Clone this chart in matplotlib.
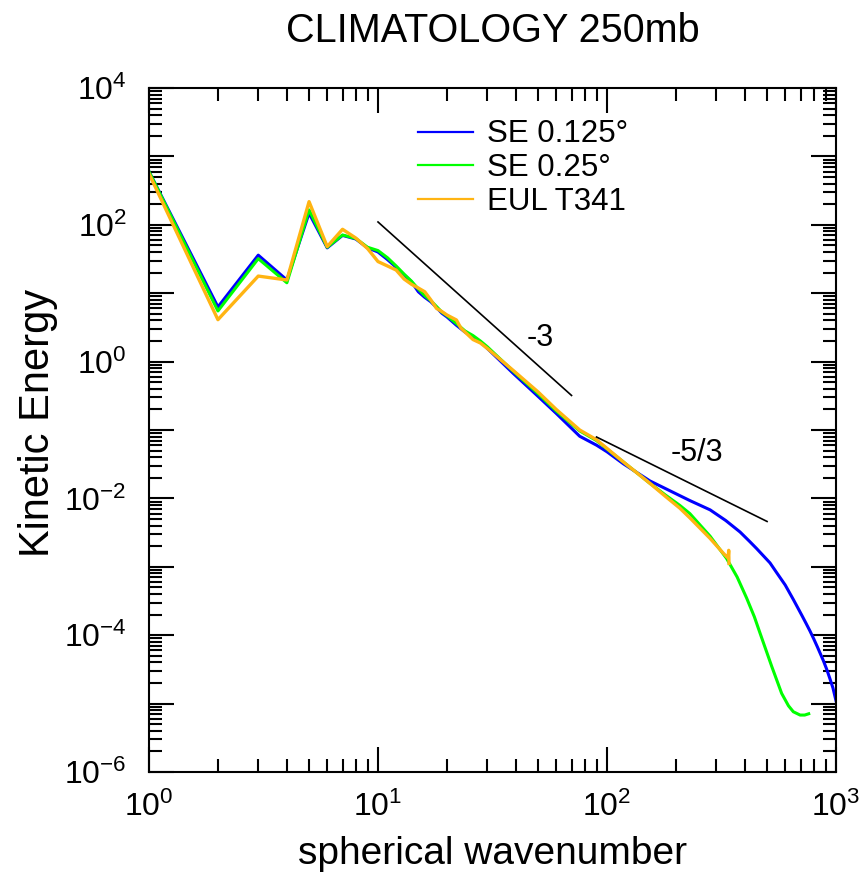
import numpy as np
import matplotlib
matplotlib.use("Agg")
import matplotlib.pyplot as plt
from matplotlib.ticker import LogLocator, FuncFormatter, NullFormatter
from matplotlib.lines import Line2D

plt.rcParams['font.family'] = ['Liberation Sans', 'DejaVu Sans']
plt.rcParams['mathtext.default'] = 'regular'

# kinetic energy spectra, 250mb climatology
k_se125 = [1, 2, 3, 4, 5, 6, 7, 8, 9, 10, 11, 12, 13, 14, 15, 16, 17, 18, 19, 20,
           22, 24, 26, 28, 30, 39, 50, 60, 76, 90, 100, 118, 154, 200, 230, 282,
           330, 381, 420, 450, 515, 550, 600, 651, 680, 710, 740, 770, 800, 830,
           860, 880, 910, 940, 970, 1000]
E_se125 = [600, 6.3, 36, 15.6, 148, 46, 70, 62, 46, 40, 31, 24, 18.5, 14.7, 10.5,
           8.7, 7.5, 6.2, 5.1, 4.5, 3.4, 2.7, 2.3, 1.95, 1.56, 0.67, 0.31, 0.175,
           0.081, 0.060, 0.048, 0.032, 0.018, 0.0117, 0.0093, 0.0068, 4.75e-3,
           3.23e-3, 2.34e-3, 1.85e-3, 1.14e-3, 8.26e-4, 5.42e-4, 3.33e-4, 2.54e-4,
           1.94e-4, 1.49e-4, 1.15e-4, 8.8e-5, 6.7e-5, 5.1e-5, 4.27e-5, 3.2e-5,
           2.33e-5, 1.69e-5, 1.1e-5]

k_se25 = [1, 2, 3, 4, 5, 6, 7, 8, 9, 10, 11, 12, 13, 14, 15, 16, 17, 18, 19, 20,
          22, 24, 26, 28, 30, 39, 50, 60, 76, 90, 118, 154, 180, 208, 230, 282,
          333, 370, 407, 440, 466, 524, 579, 620, 651, 697, 730, 760]
E_se25 = [600, 5.5, 32, 14.2, 165, 47, 71, 63, 47, 42, 33, 25, 19, 15, 11.5, 9.2,
          7.8, 6.4, 5.3, 4.7, 3.6, 2.8, 2.4, 2.0, 1.65, 0.72, 0.34, 0.19, 0.097,
          0.070, 0.034, 0.0166, 0.0112, 0.0079, 0.0060, 0.0028, 1.32e-3, 7.1e-4,
          3.5e-4, 1.86e-4, 1.07e-4, 3.5e-5, 1.41e-5, 9.3e-6, 7.6e-6, 6.8e-6,
          6.8e-6, 7.1e-6]

k_eul = [1, 2, 3, 4, 5, 6, 7, 8, 9, 10, 11, 12, 13, 14, 15, 16, 17, 18, 19, 20,
         22, 23, 24, 26, 28, 30, 39, 50, 60, 76, 90, 118, 154, 180, 208, 230, 282,
         322, 335, 338, 340, 341]
E_eul = [560, 4.1, 17.8, 15.6, 218, 48, 86, 64, 45, 29, 25, 21.8, 16.1, 13.5, 11.9,
         10.5, 8.0, 6.0, 5.4, 4.8, 4.06, 3.1, 2.7, 2.1, 1.87, 1.56, 0.74, 0.36,
         0.20, 0.10, 0.072, 0.034, 0.0166, 0.0107, 0.0072, 0.0052, 0.0026,
         1.58e-3, 1.38e-3, 1.35e-3, 1.74e-3, 1.12e-3]

# reference slopes
ref3_k = [10, 70]
ref3_E = [110, 0.32]
ref53_k = [90, 500]
ref53_E = [0.079, 0.0046]

fig = plt.figure(figsize=(8.61, 8.86), dpi=100)
ax = fig.add_axes([149 / 861, 1 - 772 / 886, 687 / 861, 684 / 886])

ax.plot(k_se125, E_se125, color='#0000ff', lw=2.2)
ax.plot(k_se25, E_se25, color='#00ff00', lw=2.2)
ax.plot(k_eul, E_eul, color='#ffb412', lw=2.4)

ax.plot(ref3_k, ref3_E, color='black', lw=1.2)
ax.plot(ref53_k, ref53_E, color='black', lw=1.2)
ax.text(51, 2.2, '-3', fontsize=22, ha='center', va='center')
ax.text(247, 0.046, '-5/3', fontsize=22, ha='center', va='center')

ax.set_xscale('log')
ax.set_yscale('log')
ax.set_xlim(1, 1000)
ax.set_ylim(1e-6, 1e4)

ax.xaxis.set_major_locator(LogLocator(base=10, numticks=10))
ax.xaxis.set_minor_locator(LogLocator(base=10, subs=np.arange(2, 10), numticks=10))
ax.yaxis.set_major_locator(LogLocator(base=10, numticks=20))
ax.yaxis.set_minor_locator(LogLocator(base=10, subs=np.arange(2, 10), numticks=20))


def pow_label(v, pos, step=1):
    e = int(round(np.log10(v)))
    if e % step:
        return ''
    return '$10^{%d}$' % e


ax.xaxis.set_major_formatter(FuncFormatter(pow_label))
ax.yaxis.set_major_formatter(FuncFormatter(lambda v, p: pow_label(v, p, 2)))
ax.xaxis.set_minor_formatter(NullFormatter())
ax.yaxis.set_minor_formatter(NullFormatter())

ax.tick_params(which='both', direction='in', top=True, right=True, width=1.5,
               labelsize=23)
ax.tick_params(which='major', length=18)
ax.tick_params(which='minor', length=9.5)
ax.tick_params(axis='x', pad=14)
ax.tick_params(axis='y', pad=16)
for s in ax.spines.values():
    s.set_linewidth(1.5)

ax.set_title('CLIMATOLOGY 250mb', fontsize=28.5, pad=33)
ax.set_xlabel('spherical wavenumber', fontsize=28)
ax.xaxis.set_label_coords(0.5, -0.093)
ax.set_ylabel('Kinetic Energy', fontsize=30)
ax.yaxis.set_label_coords(-0.133, 0.511)

handles = [Line2D([], [], color='#0000ff', lw=1.6),
           Line2D([], [], color='#00ff00', lw=1.6),
           Line2D([], [], color='#ffb412', lw=1.6)]
ax.legend(handles, ['SE 0.125°', 'SE 0.25°', 'EUL T341'], loc='upper left',
          bbox_to_anchor=(0.3916, 0.954), frameon=False, fontsize=22.5,
          handlelength=1.75, handletextpad=0.45, labelspacing=0.12,
          borderpad=0, borderaxespad=0)

fig.savefig('out.png', dpi=100)
